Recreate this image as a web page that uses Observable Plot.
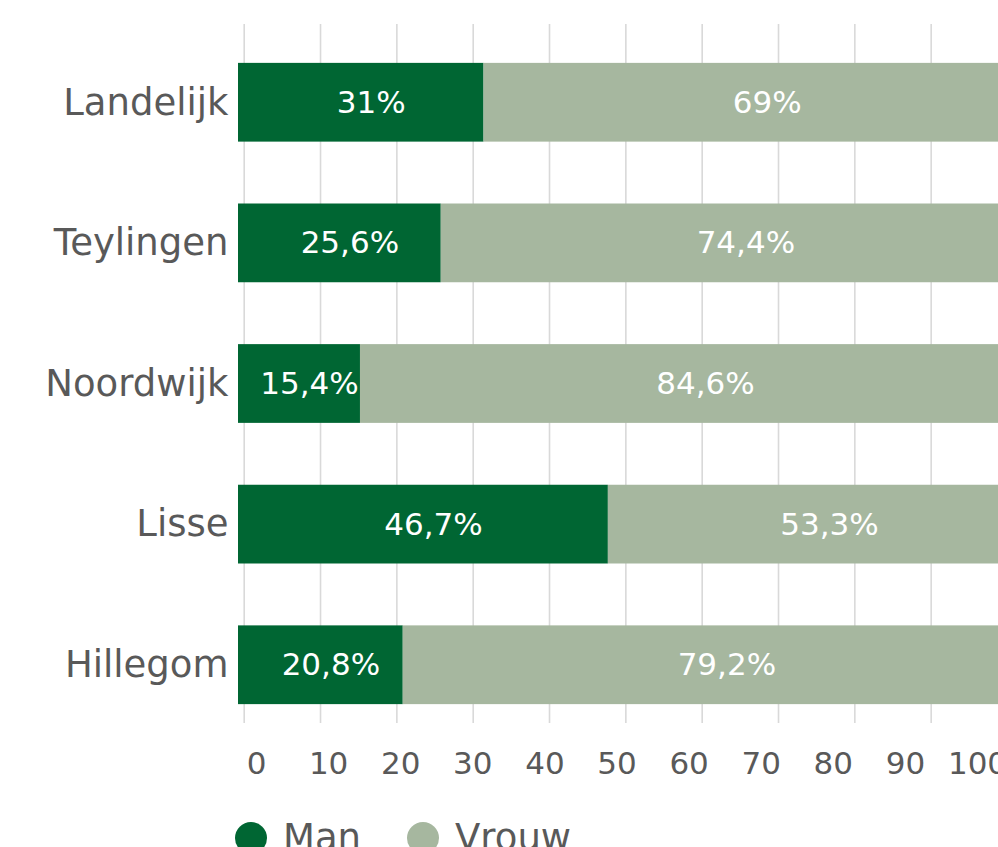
<!DOCTYPE html>
<html>
<head>
<meta charset="utf-8">
<script src="https://cdn.jsdelivr.net/npm/d3@7"></script>
<script src="https://cdn.jsdelivr.net/npm/@observablehq/plot@0.6"></script>
<style>
  html, body { margin: 0; padding: 0; background: #fff; overflow: hidden; }
  #wrap { position: relative; width: 998px; height: 847px; overflow: hidden; background: #fff; font-family: "DejaVu Sans", sans-serif; }
  #wrap svg { position: absolute; left: 0; top: 0; max-width: none; }
  #legend { position: absolute; left: 235px; top: 818px; display: flex; align-items: center; color: #595959; font-size: 37px; line-height: 40px; white-space: nowrap; }
  .sw { display: inline-block; width: 32px; height: 32px; border-radius: 50%; margin-right: 16px; }
  .item { display: flex; align-items: center; margin-right: 46px; }
</style>
</head>
<body>
<div id="wrap"></div>
<script>
const regions = ["Landelijk", "Teylingen", "Noordwijk", "Lisse", "Hillegom"];
const man = [31, 25.6, 15.4, 46.7, 20.8];
const vrouw = [69, 74.4, 84.6, 53.3, 79.2];
const series = ["Man", "Vrouw"];
const colors = ["#006633", "#a6b79f"];
const ticks = [0, 10, 20, 30, 40, 50, 60, 70, 80, 90, 100];

const data = [];
regions.forEach((r, i) => {
  data.push({region: r, sex: "Man", value: man[i]});
  data.push({region: r, sex: "Vrouw", value: vrouw[i]});
});
const fmt = v => String(v).replace(".", ",") + "%";

const W = 998, H = 847;
const common = {width: W, height: H, style: {background: "transparent", fontFamily: "DejaVu Sans", color: "#595959", overflow: "visible"}};

// gridlines
const grid = Plot.plot({
  ...common,
  marginTop: 24, marginBottom: 124, marginLeft: 0, marginRight: 0,
  x: {domain: [0, 100], range: [243.7, 1007], axis: null},
  marks: [
    Plot.gridX(ticks, {stroke: "#d9d9d9", strokeOpacity: 1, strokeWidth: 1.6})
  ]
});

// bars
const bars = Plot.plot({
  ...common,
  marginTop: 1, marginBottom: 81, marginLeft: 238, marginRight: 0,
  x: {domain: [0, 100], range: [238, 1030], axis: null},
  y: {domain: regions, padding: 0.44, round: false, label: null},
  color: {domain: series, range: colors},
  marks: [
    Plot.barX(data, Plot.stackX({x: "value", y: "region", fill: "sex"})),
    Plot.text(data, Plot.stackX({x: "value", y: "region", z: "sex", text: d => fmt(d.value), fill: "white", fontSize: 31, dx: 10})),
    Plot.axisY({tickSize: 0, tickPadding: 10, fontSize: 37, label: null})
  ]
});

// tick labels
const axis = Plot.plot({
  ...common,
  marginTop: 0, marginBottom: 107, marginLeft: 0, marginRight: 0,
  x: {domain: [0, 100], range: [256, 977]},
  marks: [
    Plot.axisX(ticks, {tickSize: 0, tickPadding: 11, fontSize: 31, label: null})
  ]
});

const wrap = document.getElementById("wrap");
wrap.append(grid, bars, axis);

const legend = document.createElement("div");
legend.id = "legend";
series.forEach((s, i) => {
  const item = document.createElement("div");
  item.className = "item";
  const sw = document.createElement("span");
  sw.className = "sw";
  sw.style.background = colors[i];
  const t = document.createElement("span");
  t.textContent = s;
  item.append(sw, t);
  legend.append(item);
});
wrap.append(legend);
</script>
</body>
</html>
